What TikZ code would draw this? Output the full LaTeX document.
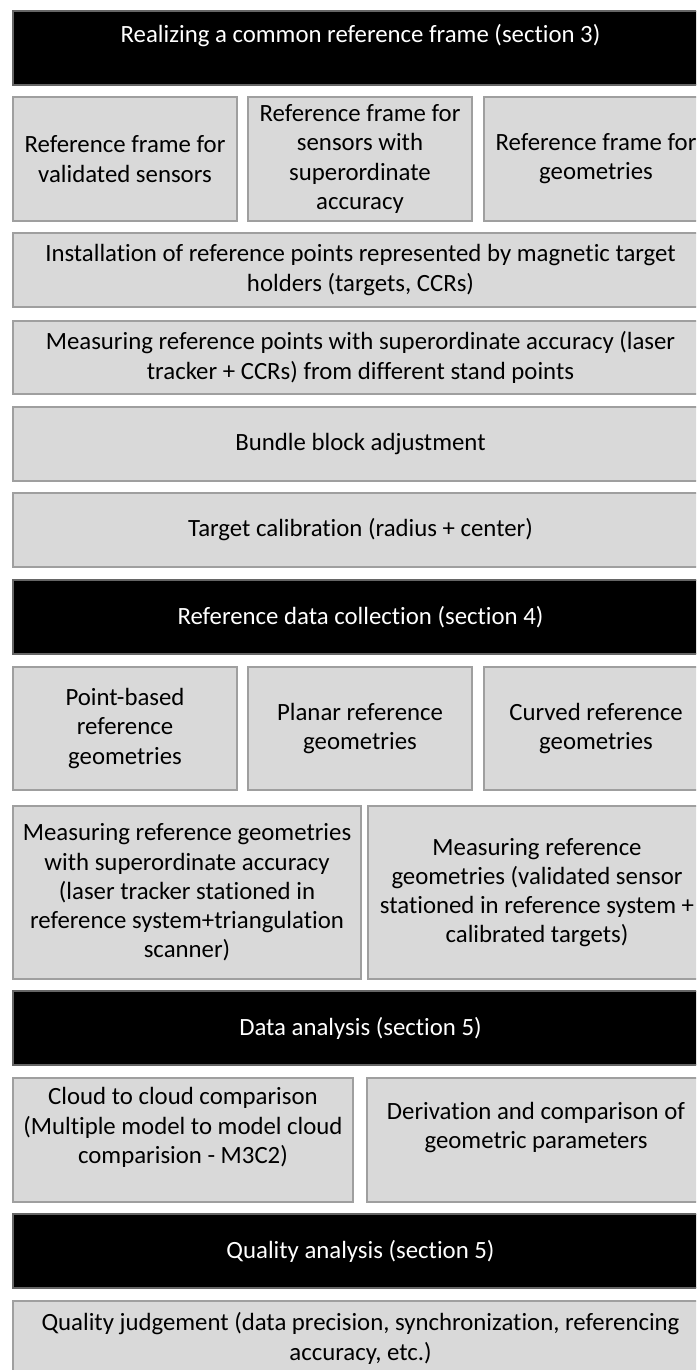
\documentclass[tikz,border=0pt]{standalone}
\usepackage{fontspec}
\setmainfont{Carlito}[Ligatures={NoCommon}]
\usepackage{tikz}

\begin{document}
\begin{tikzpicture}[x=0.5pt, y=-0.5pt,
  box/.style={anchor=north west, inner sep=0pt, outer sep=0pt, align=center,
    font=\fontsize{12.4}{14.6}\selectfont, line width=0.6pt},
  hdr/.style={box, fill=black, draw=black!60, text=white, minimum width=347.5pt, minimum height=37pt},
  cell/.style={box, fill=gray!30, draw=gray!75, text=black},
  third/.style={cell, minimum width=112pt, minimum height=62pt},
  wide/.style={cell, minimum width=347.5pt, minimum height=37pt}]

\useasboundingbox (0,0) rectangle (696,1370);
\clip (0,0) rectangle (696,1370);

\node[hdr] (frame) at (13,11) {Realizing a common reference frame (section 3)\\\mbox{}};

\node[third] (rfval) at (13,97) {Reference frame for\\validated sensors};

\node[third] (rfsup) at (248,97) {Reference frame for\\sensors with\\superordinate\\accuracy};

\node[third] (rfgeo) at (484,97) {Reference frame for\\geometries};

\node[wide] (install) at (13,233) {Installation of reference points represented by magnetic target\\holders (targets, CCRs)};

\node[wide, minimum height=36.5pt] (measpts) at (13,321) {Measuring reference points with superordinate accuracy (laser\\tracker + CCRs) from different stand points};

\node[wide] (bundle) at (13,407) {Bundle block adjustment};

\node[wide] (tcal) at (13,493) {Target calibration (radius + center)};

\node[hdr] (collect) at (13,580) {Reference data collection (section 4)};

\node[third, minimum height=61.5pt] (ptgeo) at (13,667) {Point-based\\reference\\geometries};

\node[third, minimum height=61.5pt] (plgeo) at (248,667) {Planar reference\\geometries};

\node[third, minimum height=61.5pt] (cvgeo) at (484,667) {Curved reference\\geometries};

\node[cell, minimum width=174pt, minimum height=86.5pt] (measlt) at (13,806) {Measuring reference geometries\\with superordinate accuracy\\(laser tracker stationed in\\reference system+triangulation\\scanner)};

\node[cell, minimum width=169pt, minimum height=86.5pt] (measvs) at (368,806) {Measuring reference\\geometries (validated sensor\\stationed in reference system +\\calibrated targets)};

\node[hdr] (analysis) at (13,991) {Data analysis (section 5)};

\node[cell, minimum width=170pt, minimum height=62pt] (c2c) at (13,1078) {Cloud to cloud comparison\\(Multiple model to model cloud\\comparision - M3C2)\\\mbox{}};

\node[cell, minimum width=169pt, minimum height=62pt] (params) at (367,1078) {Derivation and comparison of\\geometric parameters\\\mbox{}};

\node[hdr] (quality) at (13,1214) {Quality analysis (section 5)};

\node[cell, minimum width=347.5pt, minimum height=50pt] (judge) at (13,1301) {Quality judgement (data precision, synchronization, referencing\\accuracy, etc.)\\\mbox{}};

\end{tikzpicture}
\end{document}
